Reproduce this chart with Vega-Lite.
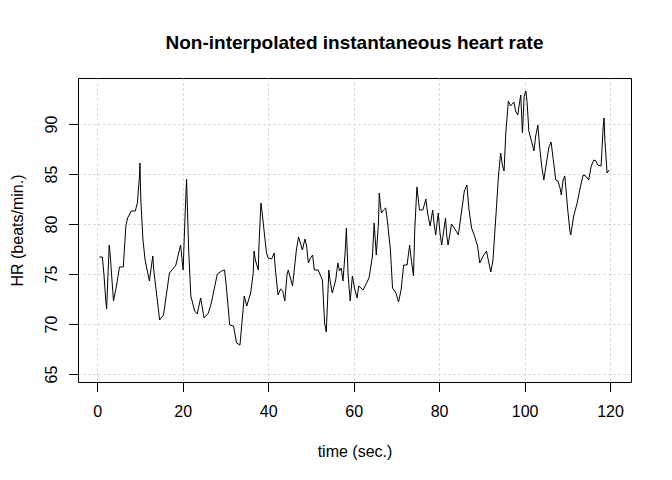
{
  "$schema": "https://vega.github.io/schema/vega-lite/v6.json",
  "description": "Non-interpolated instantaneous heart rate, R base-graphics look.",
  "autosize": {"type": "none"},
  "padding": {"left": 78, "top": 78, "right": 41, "bottom": 98},
  "width": 553,
  "height": 304,
  "background": "white",
  "title": {
    "text": "Non-interpolated instantaneous heart rate",
    "font": "Liberation Sans",
    "fontSize": 19,
    "fontWeight": "bold",
    "color": "black",
    "anchor": "middle",
    "baseline": "alphabetic",
    "offset": 10
  },
  "data": {
    "values": [
      {"t": 0.5, "hr": 76.7}, {"t": 1.2, "hr": 76.7}, {"t": 1.6, "hr": 74.8}, {"t": 2.0, "hr": 72.3},
      {"t": 2.2, "hr": 71.5}, {"t": 2.8, "hr": 77.9}, {"t": 3.0, "hr": 77.1}, {"t": 3.8, "hr": 72.3},
      {"t": 4.5, "hr": 73.8}, {"t": 5.2, "hr": 75.7}, {"t": 6.1, "hr": 75.7}, {"t": 6.7, "hr": 79.8},
      {"t": 7.1, "hr": 80.6}, {"t": 8.0, "hr": 81.3}, {"t": 8.9, "hr": 81.3}, {"t": 9.4, "hr": 82.1},
      {"t": 9.9, "hr": 84.9}, {"t": 10.0, "hr": 86.1}, {"t": 10.2, "hr": 82.4}, {"t": 10.7, "hr": 78.4},
      {"t": 11.2, "hr": 76.4}, {"t": 12.2, "hr": 74.3}, {"t": 13.0, "hr": 76.8}, {"t": 13.2, "hr": 75.5},
      {"t": 14.6, "hr": 70.4}, {"t": 15.5, "hr": 70.9}, {"t": 16.9, "hr": 75.1}, {"t": 17.5, "hr": 75.4},
      {"t": 18.4, "hr": 75.9}, {"t": 19.5, "hr": 77.9}, {"t": 20.1, "hr": 75.4}, {"t": 20.6, "hr": 81.4},
      {"t": 20.9, "hr": 84.5}, {"t": 21.2, "hr": 80.2}, {"t": 21.4, "hr": 77.4}, {"t": 21.9, "hr": 72.8},
      {"t": 22.8, "hr": 71.3}, {"t": 23.4, "hr": 71.0}, {"t": 24.2, "hr": 72.6}, {"t": 25.0, "hr": 70.6},
      {"t": 26.0, "hr": 71.1}, {"t": 26.7, "hr": 72.1}, {"t": 28.1, "hr": 75.0}, {"t": 29.1, "hr": 75.3},
      {"t": 29.8, "hr": 75.4}, {"t": 30.2, "hr": 73.8}, {"t": 31.0, "hr": 69.9}, {"t": 31.9, "hr": 69.8},
      {"t": 32.6, "hr": 68.1}, {"t": 33.4, "hr": 67.9}, {"t": 34.0, "hr": 70.8}, {"t": 34.4, "hr": 72.8},
      {"t": 35.0, "hr": 71.8}, {"t": 35.9, "hr": 73.1}, {"t": 36.5, "hr": 75.1}, {"t": 36.7, "hr": 77.3},
      {"t": 37.0, "hr": 76.4}, {"t": 37.7, "hr": 75.4}, {"t": 37.8, "hr": 77.4}, {"t": 38.3, "hr": 82.1},
      {"t": 38.6, "hr": 81.1}, {"t": 39.1, "hr": 79.1}, {"t": 39.6, "hr": 77.1}, {"t": 40.0, "hr": 76.6},
      {"t": 40.8, "hr": 76.5}, {"t": 41.4, "hr": 77.1}, {"t": 41.7, "hr": 75.4}, {"t": 42.3, "hr": 72.9},
      {"t": 42.9, "hr": 73.5}, {"t": 43.4, "hr": 73.3}, {"t": 43.9, "hr": 72.3}, {"t": 44.4, "hr": 74.9},
      {"t": 44.7, "hr": 75.4}, {"t": 45.2, "hr": 74.6}, {"t": 45.7, "hr": 73.8}, {"t": 46.2, "hr": 75.8},
      {"t": 46.6, "hr": 77.4}, {"t": 47.1, "hr": 78.7}, {"t": 47.4, "hr": 78.3}, {"t": 48.0, "hr": 77.4},
      {"t": 48.6, "hr": 78.5}, {"t": 49.0, "hr": 77.8}, {"t": 49.4, "hr": 76.1}, {"t": 49.9, "hr": 76.6},
      {"t": 50.4, "hr": 76.9}, {"t": 50.8, "hr": 75.4}, {"t": 51.7, "hr": 75.4}, {"t": 52.2, "hr": 74.9},
      {"t": 52.7, "hr": 74.4}, {"t": 53.2, "hr": 70.1}, {"t": 53.6, "hr": 69.2}, {"t": 54.2, "hr": 75.4},
      {"t": 54.5, "hr": 74.3}, {"t": 55.0, "hr": 73.1}, {"t": 55.8, "hr": 74.4}, {"t": 56.3, "hr": 76.1},
      {"t": 56.7, "hr": 75.3}, {"t": 57.1, "hr": 75.6}, {"t": 57.5, "hr": 74.3}, {"t": 58.0, "hr": 77.1},
      {"t": 58.3, "hr": 79.6}, {"t": 58.7, "hr": 74.9}, {"t": 59.2, "hr": 72.3}, {"t": 59.7, "hr": 74.8},
      {"t": 60.2, "hr": 73.6}, {"t": 60.8, "hr": 72.6}, {"t": 61.2, "hr": 73.8}, {"t": 62.2, "hr": 73.4},
      {"t": 62.8, "hr": 73.9}, {"t": 63.6, "hr": 74.6}, {"t": 63.9, "hr": 75.4}, {"t": 64.4, "hr": 76.8},
      {"t": 64.8, "hr": 80.1}, {"t": 65.3, "hr": 76.9}, {"t": 65.8, "hr": 80.1}, {"t": 66.0, "hr": 83.1},
      {"t": 66.2, "hr": 82.1}, {"t": 66.5, "hr": 81.1}, {"t": 67.0, "hr": 81.4}, {"t": 67.5, "hr": 81.6},
      {"t": 67.9, "hr": 80.3}, {"t": 68.6, "hr": 77.4}, {"t": 69.1, "hr": 73.6}, {"t": 69.9, "hr": 73.1},
      {"t": 70.5, "hr": 72.2}, {"t": 71.1, "hr": 73.4}, {"t": 71.7, "hr": 75.9}, {"t": 72.5, "hr": 75.9},
      {"t": 73.1, "hr": 77.9}, {"t": 73.5, "hr": 76.4}, {"t": 74.0, "hr": 74.8}, {"t": 74.3, "hr": 79.4},
      {"t": 74.8, "hr": 83.7}, {"t": 75.1, "hr": 82.6}, {"t": 75.4, "hr": 81.4}, {"t": 76.2, "hr": 81.4},
      {"t": 76.9, "hr": 82.5}, {"t": 77.3, "hr": 81.1}, {"t": 77.9, "hr": 79.8}, {"t": 78.5, "hr": 81.4},
      {"t": 78.8, "hr": 80.1}, {"t": 79.2, "hr": 78.9}, {"t": 79.8, "hr": 81.1}, {"t": 80.2, "hr": 79.1},
      {"t": 80.6, "hr": 77.9}, {"t": 81.0, "hr": 79.1}, {"t": 81.5, "hr": 80.6}, {"t": 81.8, "hr": 78.8},
      {"t": 82.1, "hr": 77.9}, {"t": 82.9, "hr": 80.0}, {"t": 83.7, "hr": 79.5}, {"t": 84.5, "hr": 78.9},
      {"t": 85.2, "hr": 81.1}, {"t": 85.9, "hr": 83.3}, {"t": 86.5, "hr": 83.9}, {"t": 87.0, "hr": 81.4},
      {"t": 87.6, "hr": 79.6}, {"t": 88.2, "hr": 78.9}, {"t": 89.0, "hr": 77.8}, {"t": 89.5, "hr": 76.1},
      {"t": 90.3, "hr": 76.8}, {"t": 91.1, "hr": 77.3}, {"t": 91.5, "hr": 76.4}, {"t": 92.1, "hr": 75.2},
      {"t": 92.6, "hr": 76.4}, {"t": 93.3, "hr": 80.9}, {"t": 93.9, "hr": 84.9}, {"t": 94.4, "hr": 87.1},
      {"t": 94.8, "hr": 85.9}, {"t": 95.2, "hr": 85.3}, {"t": 95.6, "hr": 89.1}, {"t": 96.2, "hr": 92.3},
      {"t": 96.7, "hr": 91.8}, {"t": 97.5, "hr": 92.2}, {"t": 97.9, "hr": 91.3}, {"t": 98.4, "hr": 90.9},
      {"t": 98.7, "hr": 91.8}, {"t": 99.1, "hr": 92.9}, {"t": 99.5, "hr": 89.1}, {"t": 99.9, "hr": 92.8},
      {"t": 100.3, "hr": 93.3}, {"t": 100.6, "hr": 92.1}, {"t": 101.0, "hr": 89.3}, {"t": 102.2, "hr": 87.3},
      {"t": 102.6, "hr": 88.8}, {"t": 103.1, "hr": 89.9}, {"t": 103.5, "hr": 87.8}, {"t": 104.0, "hr": 85.8},
      {"t": 104.5, "hr": 84.4}, {"t": 105.1, "hr": 86.1}, {"t": 105.7, "hr": 87.7}, {"t": 106.2, "hr": 88.2},
      {"t": 107.3, "hr": 84.4}, {"t": 107.8, "hr": 84.3}, {"t": 108.3, "hr": 83.6}, {"t": 108.6, "hr": 82.9},
      {"t": 109.0, "hr": 84.4}, {"t": 109.4, "hr": 84.8}, {"t": 109.7, "hr": 83.4}, {"t": 110.1, "hr": 81.4},
      {"t": 110.6, "hr": 79.3}, {"t": 110.8, "hr": 78.9}, {"t": 111.5, "hr": 80.8}, {"t": 112.3, "hr": 82.1},
      {"t": 113.1, "hr": 83.8}, {"t": 113.7, "hr": 84.9}, {"t": 114.3, "hr": 84.8}, {"t": 115.0, "hr": 84.4},
      {"t": 115.6, "hr": 85.8}, {"t": 116.2, "hr": 86.4}, {"t": 116.7, "hr": 86.3}, {"t": 117.1, "hr": 85.9},
      {"t": 117.9, "hr": 85.8}, {"t": 118.4, "hr": 89.8}, {"t": 118.6, "hr": 90.6}, {"t": 118.8, "hr": 88.3},
      {"t": 119.3, "hr": 85.1}, {"t": 119.8, "hr": 85.4}
    ]
  },
  "mark": {"type": "line", "color": "black", "strokeWidth": 1, "interpolate": "linear"},
  "encoding": {
    "x": {
      "field": "t",
      "type": "quantitative",
      "scale": {"domain": [-4.5, 124.9], "nice": false, "zero": false},
      "axis": {
        "title": "time (sec.)",
        "values": [0, 20, 40, 60, 80, 100, 120],
        "labelBaseline": "alphabetic",
        "labelPadding": 25,
        "titleBaseline": "alphabetic",
        "titleY": 74
      }
    },
    "y": {
      "field": "hr",
      "type": "quantitative",
      "scale": {"domain": [64.2, 94.6], "nice": false, "zero": false},
      "axis": {
        "title": "HR (beats/min.)",
        "values": [65, 70, 75, 80, 85, 90],
        "labelAngle": -90,
        "labelAlign": "center",
        "labelBaseline": "alphabetic",
        "labelPadding": 12,
        "titleAngle": -90,
        "titleAlign": "center",
        "titleBaseline": "alphabetic",
        "titleX": -56,
        "titleY": 152
      }
    }
  },
  "config": {
    "view": {"stroke": "black", "strokeWidth": 1},
    "axis": {
      "domain": false,
      "grid": true,
      "gridColor": "#cccccc",
      "gridDash": [2, 3],
      "gridWidth": 1,
      "ticks": true,
      "tickColor": "black",
      "tickSize": 9.5,
      "tickWidth": 1,
      "labelFont": "Liberation Sans",
      "labelFontSize": 16,
      "labelColor": "black",
      "labelFlush": false,
      "labelOverlap": false,
      "titleFont": "Liberation Sans",
      "titleFontSize": 16,
      "titleFontWeight": "normal",
      "titleColor": "black"
    }
  }
}
